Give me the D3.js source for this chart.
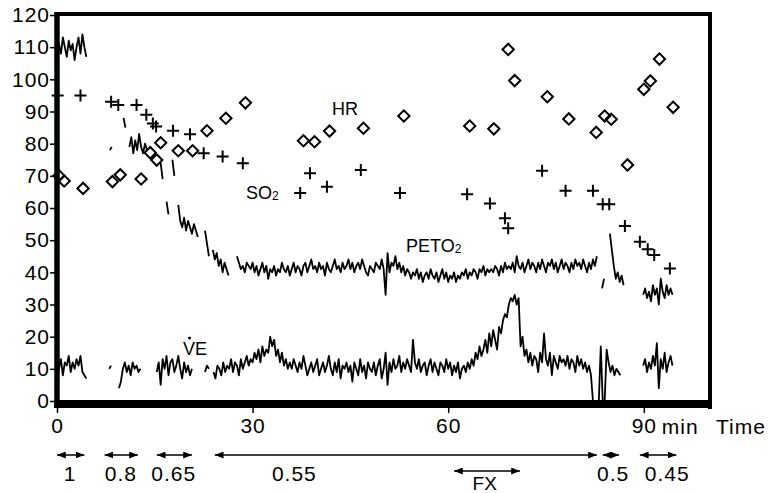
<!DOCTYPE html>
<html>
<head>
<meta charset="utf-8">
<script src="https://cdn.jsdelivr.net/npm/d3@7"></script>
<style>
  body { margin: 0; background: #fff; }
  svg text { font-family: "Liberation Sans", Arial, sans-serif; fill: #000; }
</style>
</head>
<body>
<div class="chart"></div>
<script>
// ---- data (minutes / values) ----
const so2Time = [0.1, 3.6, 8.3, 9.4, 12.2, 13.7, 14.7, 15.2, 17.8, 20.4, 22.5, 25.4, 28.5, 37.3, 38.8, 41.4,
  46.6, 52.6, 62.9, 66.4, 68.7, 69.2, 74.4, 78.0, 82.2, 83.7, 84.7, 87.1, 89.4, 90.6, 91.6, 94.0];
const so2Value = [95, 95, 93, 92, 92, 89, 86.3, 85.3, 84, 82.9, 77, 76, 73.9, 64.7, 70.8, 66.6,
  71.8, 64.7, 64.3, 61.4, 56.8, 53.7, 71.6, 65.4, 65.4, 61.2, 61.2, 54.4, 49.5, 47.2, 45.4, 41.2];

const hrTime = [0.3, 1.1, 4.0, 8.5, 9.7, 12.9, 14.3, 15.3, 15.9, 18.6, 20.8, 23.0, 25.9, 28.9, 37.8, 39.5, 41.8,
  47.0, 53.2, 63.3, 67.0, 69.2, 70.2, 75.2, 78.5, 82.7, 84.0, 85.0, 87.5, 90.0, 91.0, 92.4, 94.5];
const hrValue = [70, 68.4, 66.1, 68.2, 70.3, 69, 77.2, 74.9, 80.3, 77.8, 77.8, 84, 87.9, 92.7, 80.9, 80.6, 83.9,
  84.8, 88.6, 85.5, 84.6, 109.3, 99.6, 94.6, 87.7, 83.5, 88.6, 87.6, 73.4, 96.9, 99.5, 106.3, 91.3];

// traces are sampled every 0.3 min; null = pen lifted
const traceStep = 0.3;

const petoStart = [0, 8.1, 15.9, 22.7, 27.6, 83.6, 89.9];
const peto1 = [106, 111, 108, 113, 110, 107, 112, 109, 111, 106, 110, 113, 108, 114, 110, 107];
const peto2 = [78, 79, null, null, null, null, null, 88, 85, null, 79, 82, 77, 81, 78, 83, 79, 77, 80, 78];
const peto3 = [74, 69, null, 62, 58, null, 75, 70, null, 61, 56, 54, 57, 53, 56, 54, 52, 55, 53, 51];
const peto4 = [53, 49, 45, null, 47, 44, 46, 42, 44, 40, 43, 41, 39];
const peto5 = [
  45, 43, 41, 42, 40, 43, 42, 41, 43, 40,
  42, 39, 41, 43, 40, 42, 38, 41, 40, 42,
  39, 41, 40, 43, 41, 40, 42, 39, 41, 43,
  40, 42, 41, 39, 42, 43, 40, 42, 44, 41,
  42, 40, 43, 41, 42, 39, 43, 41, 40, 42,
  44, 41, 42, 40, 43, 41, 42, 44, 41, 43,
  40, 42, 43, 41, 44, 42, 40, 39, 42, 41,
  40, 43, 42, 41, 44, 41, 33, 46, 40, 43,
  42, 45, 41, 43, 40, 42, 39, 41, 40, 38,
  40, 39, 41, 38, 40, 37, 39, 40, 38, 41,
  39, 38, 40, 37, 39, 41, 38, 40, 37, 39,
  38, 40, 37, 39, 38, 40, 39, 41, 38, 40,
  39, 41, 40, 38, 41, 40, 42, 39, 41, 40,
  41, 40, 42, 41, 39, 42, 40, 43, 41, 42,
  41, 43, 40, 45, 42, 41, 43, 40, 42, 44,
  41, 43, 42, 40, 43, 41, 44, 42, 40, 43,
  42, 44, 41, 43, 40, 42, 44, 41, 43, 42,
  40, 43, 41, 44, 42, 43, 41, 44, 42, 40,
  43, 41, 44, 42, 45];
const peto6 = [35, 38, null, null, 52, 47, 42, 38, 40, 37, 39, 36];
const peto7 = [33, 35, 32, 34, 31, 36, 33, 35, 30, 38, 34, 32, 36, 33, 35, 33];

const veStart = [0, 8.0, 15.3, 22.7, 24.0, 83.1, 89.9];
const ve1 = [15, 10, 13, 8, 12, 11, 14, 9, 12, 10, 13, 11, 14, 9, 8, 7];
const ve2 = [10, 11, null, null, null, 4, 6, 10, 12, 9, 11, 8, 12, 10, 11, 9, 10];
const ve3 = [9, 12, 5, 13, 10, 14, 8, 12, 13, 9, 11, 14, 10, 7, 12, 9, 11, 8, 10];
const ve4 = [9, 11, 10];
const ve5 = [
  9, 7, 11, 10, 8, 12, 9, 11, 10, 13,
  9, 12, 11, 8, 13, 10, 12, 14, 11, 13,
  12, 15, 13, 16, 12, 17, 14, 16, 15, 20,
  17, 19, 14, 16, 12, 15, 11, 13, 10, 12,
  10, 13, 11, 9, 12, 10, 14, 11, 8, 10,
  12, 9, 11, 13, 8, 10, 12, 9, 11, 14,
  10, 8, 12, 9, 13, 7, 11, 10, 12, 9,
  11, 6, 12, 10, 8, 13, 9, 11, 7, 12,
  10, 9, 12, 8, 11, 13, 7, 10, 15, 5,
  12, 9, 13, 10, 11, 14, 9, 12, 10, 13,
  11, 9, 19, 12, 10, 13, 9, 11, 12, 8,
  11, 13, 9, 12, 10, 8, 12, 11, 9, 13,
  10, 12, 8, 11, 9, 12, 7, 10, 11, 9,
  12, 10, 13, 11, 15, 13, 17, 14, 16, 19,
  15, 21, 17, 22, 19, 16, 23, 21, 25, 27,
  26, 30, 32, 31, 33, 30, 32, 17, 20, 14,
  16, 12, 15, 11, 14, 13, 9, 15, 12, 21,
  13, 11, 15, 8, 14, 12, 10, 14, 12, 13,
  11, 14, 10, 13, 12, 9, 14, 11, 13, 10,
  12, 9, 11, 8, 0];
const ve6 = [0, 17, 0, 0, 16, 12, 9, 11, 8, 10, 9, 8];
const ve7 = [11, 13, 9, 12, 10, 14, 11, 18, 4, 13, 10, 15, 9, 12, 14, 11];

const yTicks = [0, 10, 20, 30, 40, 50, 60, 70, 80, 90, 100, 110, 120];
const xTicks = [0, 30, 60, 90];

// flow rates under the time axis
const rateLabels = ["1", "0.8", "0.65", "0.55", "0.5", "0.45"];
const rateFrom = [0, 7.3, 15.3, 24.2, 83.7, 89.4];
const rateTo = [4.2, 12.4, 20.7, 82.8, 86.2, 95.0];
const rateLabelAt = [2.0, 9.8, 17.9, 36.4, 85.3, 93.6];
const fxFrom = 60.9, fxTo = 71.0, fxLabelAt = 65.6;

const w = 768;
const h = 493;
const fs = 21;

const svg = d3.select(".chart")
              .append("svg")
              .attr("width", w)
              .attr("height", h)

const xScale = d3.scaleLinear()
                 .domain([0, 100])
                 .range([57, 709])
const yScale = d3.scaleLinear()
                 .domain([0, 120])
                 .range([401, 15])

const toPoints = (start, vals) => vals.map((v, i) => [start + i * traceStep, v]);

const line = d3.line()
               .defined((d) => d[1] !== null)
               .x((d) => xScale(d[0]))
               .y((d) => yScale(d[1]))

const drawTrace = (starts, segs) => {
  segs.forEach((seg, i) => {
    svg.append("path")
       .datum(toPoints(starts[i], seg))
       .attr("d", line)
       .attr("fill", "none")
       .attr("stroke", "#000")
       .attr("stroke-width", 1.8)
       .attr("stroke-linejoin", "round")
  })
}

drawTrace(petoStart, [peto1, peto2, peto3, peto4, peto5, peto6, peto7]);
drawTrace(veStart, [ve1, ve2, ve3, ve4, ve5, ve6, ve7]);

// SO2 crosses
svg.selectAll(".so2")
   .data(so2Time.map((t, i) => [t, so2Value[i]]))
   .enter()
   .append("path")
   .attr("class", "so2")
   .attr("transform", (d) => "translate(" + xScale(d[0]) + "," + yScale(d[1]) + ")")
   .attr("d", "M-6,0H6M0,-6V6")
   .attr("stroke", "#000")
   .attr("stroke-width", 2)

// HR diamonds
svg.selectAll(".hr")
   .data(hrTime.map((t, i) => [t, hrValue[i]]))
   .enter()
   .append("path")
   .attr("class", "hr")
   .attr("transform", (d) => "translate(" + xScale(d[0]) + "," + yScale(d[1]) + ") rotate(45)")
   .attr("d", d3.symbol(d3.symbolSquare, 64))
   .attr("fill", "none")
   .attr("stroke", "#000")
   .attr("stroke-width", 2)

// axes
const yAxis = d3.axisLeft(yScale).tickValues(yTicks).tickSize(7).tickPadding(0);
const xAxis = d3.axisBottom(xScale).tickValues(xTicks).tickSize(12).tickPadding(5);

const gy = svg.append("g")
              .attr("transform", "translate(57, 0)")
              .call(yAxis)
const gx = svg.append("g")
              .attr("transform", "translate(0, 401)")
              .call(xAxis)
;[gx, gy].forEach((g) => {
  g.select(".domain").remove();
  g.selectAll("line").attr("stroke", "#000").attr("stroke-width", 1.5);
  g.selectAll("text").attr("font-size", fs).attr("fill", "#000")
   .attr("letter-spacing", 1)
   .style("font-family", "'Liberation Sans', Arial, sans-serif");
})

// frame (thick left and bottom)
svg.append("line").attr("x1", 57).attr("x2", 711).attr("y1", 14).attr("y2", 14)
   .attr("stroke", "#000").attr("stroke-width", 4)
svg.append("line").attr("x1", 710).attr("x2", 710).attr("y1", 12).attr("y2", 409)
   .attr("stroke", "#000").attr("stroke-width", 4)
svg.append("line").attr("x1", 57).attr("x2", 57).attr("y1", 12).attr("y2", 408)
   .attr("stroke", "#000").attr("stroke-width", 5.5)
svg.append("line").attr("x1", 54).attr("x2", 712).attr("y1", 404).attr("y2", 404)
   .attr("stroke", "#000").attr("stroke-width", 8)

svg.append("text").attr("x", xScale(90) + 18).attr("y", 434)
   .attr("font-size", fs).attr("letter-spacing", 1).text("min")
svg.append("text").attr("x", 716).attr("y", 434)
   .attr("font-size", fs).attr("letter-spacing", 1).text("Time")

// series labels
const sub = (sel, main, s) => {
  sel.append("tspan").text(main);
  sel.append("tspan").attr("font-size", 12).attr("dy", 1).text(s);
}
svg.append("text").attr("x", 332).attr("y", 115).attr("font-size", 18).text("HR")
sub(svg.append("text").attr("x", 246).attr("y", 199).attr("font-size", 18), "SO", "2")
sub(svg.append("text").attr("x", 406).attr("y", 252).attr("font-size", 18), "PETO", "2")
svg.append("text").attr("x", 183).attr("y", 355).attr("font-size", 18).text("VE")
svg.append("circle").attr("cx", 189.5).attr("cy", 338).attr("r", 1.5).attr("fill", "#000")

// arrows
const defs = svg.append("defs");
defs.append("marker")
    .attr("id", "head")
    .attr("viewBox", "0 0 10 8")
    .attr("refX", 10).attr("refY", 4)
    .attr("markerWidth", 9).attr("markerHeight", 7)
    .attr("markerUnits", "userSpaceOnUse")
    .attr("orient", "auto-start-reverse")
    .append("path")
    .attr("d", "M0,0L10,4L0,8Z")
    .attr("fill", "#000")

const arrow = (t0, t1, y) => {
  svg.append("line")
     .attr("x1", xScale(t0)).attr("x2", xScale(t1))
     .attr("y1", y).attr("y2", y)
     .attr("stroke", "#000").attr("stroke-width", 1.5)
     .attr("marker-start", "url(#head)")
     .attr("marker-end", "url(#head)")
}

rateLabels.forEach((lab, i) => {
  arrow(rateFrom[i], rateTo[i], 455);
  svg.append("text")
     .attr("x", xScale(rateLabelAt[i]))
     .attr("y", 481)
     .attr("text-anchor", "middle")
     .attr("font-size", fs)
     .attr("letter-spacing", 1)
     .text(lab)
})
arrow(fxFrom, fxTo, 471);
svg.append("text").attr("x", xScale(fxLabelAt)).attr("y", 490)
   .attr("text-anchor", "middle").attr("font-size", 19).text("FX")
</script>
</body>
</html>
